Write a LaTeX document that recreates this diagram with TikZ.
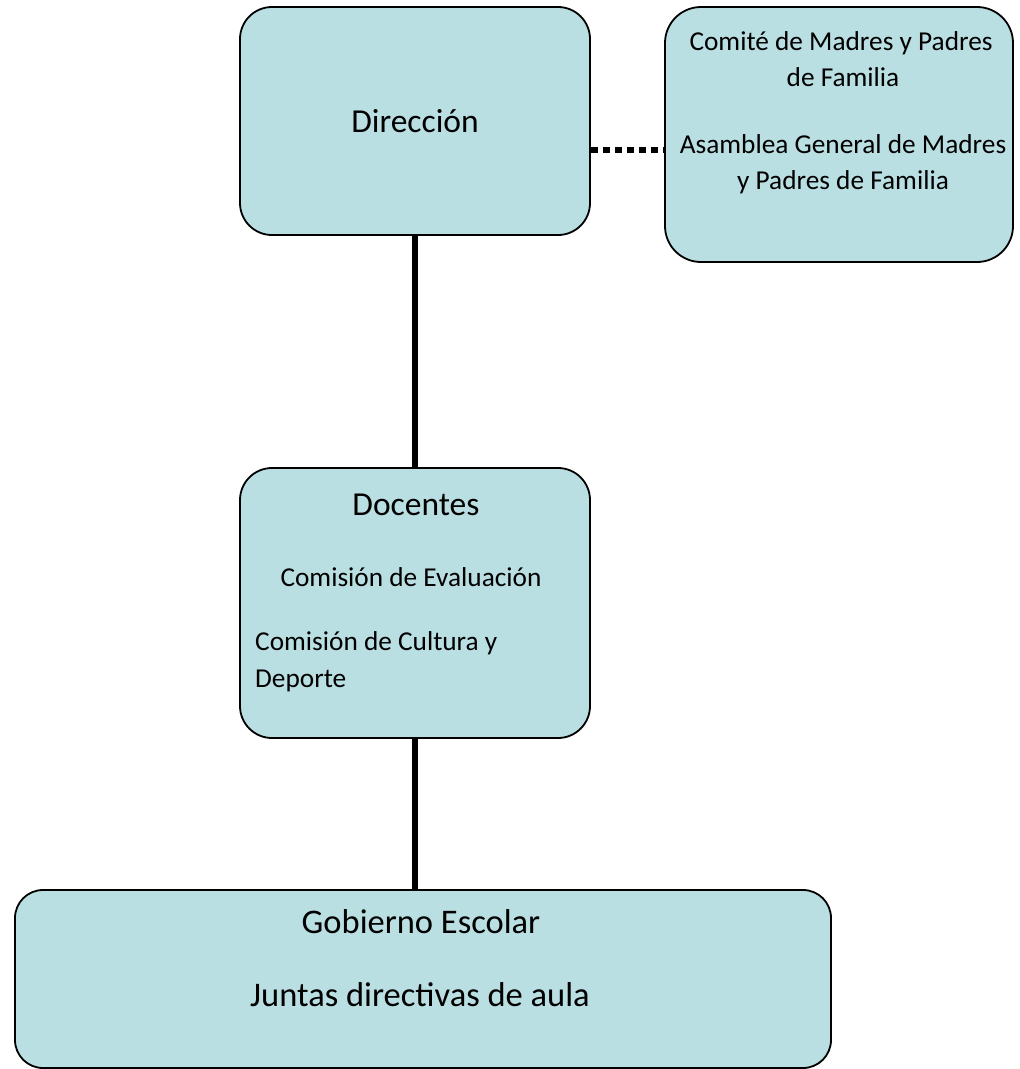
\documentclass[tikz,border=0pt]{standalone}
\usepackage{fontspec}
\setmainfont{Carlito}
\definecolor{boxfill}{RGB}{186,223,227}
\begin{document}
\begin{tikzpicture}[x=1pt,y=-1pt,
  box/.style={draw=black,line width=1.8pt,fill=boxfill,rounded corners=32pt,inner sep=0pt},
  big/.style={inner sep=0pt,anchor=base,font=\fontsize{33.5}{40}\selectfont},
  small/.style={inner sep=0pt,anchor=base,font=\fontsize{27.3}{38}\selectfont},
  link/.style={line width=6pt},
  dots/.style={line width=6pt,dash pattern=on 7pt off 5pt}]
\useasboundingbox (0,0) rectangle (1020,1069);
% boxes
\node[box,minimum width=350pt,minimum height=228pt] (dir) at (415,121) {};
\node[box,minimum width=348pt,minimum height=255pt,rounded corners=36pt] (pad) at (839,134.5) {};
\node[box,minimum width=350pt,minimum height=270pt] (doc) at (415,603) {};
\node[box,minimum width=816pt,minimum height=178pt,rounded corners=28pt] (gob) at (423,979) {};
% connectors
\draw[link] (dir.south) -- (doc.north);
\draw[link] (doc.south) -- (gob.north -| doc.south);
\draw[dots] (dir.east |- 0,150) coordinate (d1) -- (pad.west |- 0,150) coordinate (d2);
% texts
\node[big] (tdir) at (415,132) {Dirección};
\node[small] (p1) at (841,50) {Comité de Madres y Padres};
\node[small] (p2) at (843,86) {de Familia};
\node[small] (p3) at (843,153) {Asamblea General de Madres};
\node[small] (p4) at (843,189) {y Padres de Familia};
\node[big] (tdoc) at (416,515) {Docentes};
\node[small] (c1) at (411,586) {Comisión de Evaluación};
\node[small,anchor=base west] (c2) at (255,650) {Comisión de Cultura y};
\node[small,anchor=base west] (c3) at (255,687) {Deporte};
\node[big,font=\fontsize{34.5}{40}\selectfont] (g1) at (421,933) {Gobierno Escolar};
\node[big,font=\fontsize{34.5}{40}\selectfont] (g2) at (420,1006) {Juntas directivas de aula};
\end{tikzpicture}
\end{document}
